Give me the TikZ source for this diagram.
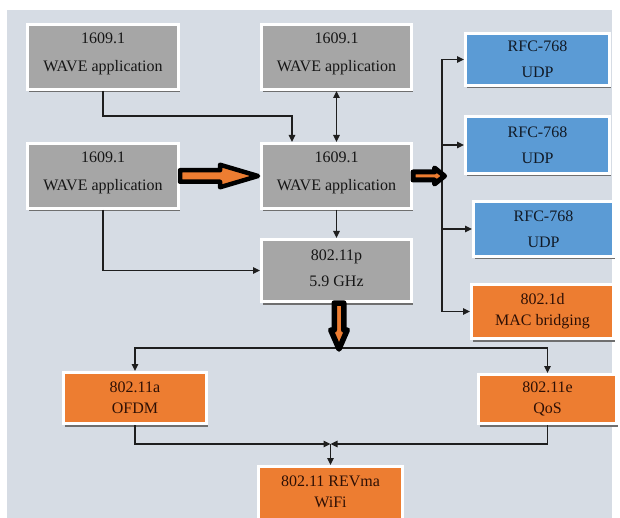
\documentclass[tikz,border=0pt]{standalone}
\usepackage{fontspec}
\setmainfont{Liberation Serif}
\usetikzlibrary{arrows.meta,shadows,calc}
\definecolor{bgc}{HTML}{D6DCE4}
\definecolor{grayc}{HTML}{A6A6A6}
\definecolor{bluec}{HTML}{5B9BD5}
\definecolor{orangec}{HTML}{ED7D31}
\definecolor{shadowc}{HTML}{6F6F6F}
\definecolor{linec}{HTML}{1E1E1E}
\definecolor{graytext}{HTML}{161616}
\definecolor{bluetext}{HTML}{111A26}
\definecolor{orangetext}{HTML}{2E1005}
\begin{document}
\begin{tikzpicture}[x=1pt,y=-1pt,
  blk/.style={draw=white, line width=3pt, align=center, inner sep=0pt,
    drop shadow={shadow xshift=1pt, shadow yshift=-3pt, opacity=1, fill=shadowc}},
  graybox/.style={blk, fill=grayc, text=graytext, font=\fontsize{16}{28}\selectfont},
  bluebox/.style={blk, fill=bluec, text=bluetext, font=\fontsize{16}{26}\selectfont},
  orangebox/.style={blk, fill=orangec, text=orangetext, font=\fontsize{16}{21}\selectfont},
  conn/.style={draw=linec, line width=1.3pt, -{Triangle[length=7pt,width=6.5pt]}},
  plainline/.style={draw=linec, line width=1.3pt},
  fatarrow/.style={draw=black, fill=orangec, line join=round},
]
\useasboundingbox (0,0) rectangle (620,518);
\clip (0,0) rectangle (620,518);
\fill[white] (0,0) rectangle (620,518);
\fill[bgc] (7,10) rectangle (612,518);

% application boxes
\node[graybox, minimum width=151pt, minimum height=65pt, text depth=9.5pt] (appA) at (103,57) {1609.1\\WAVE application};
\node[graybox, minimum width=151pt, minimum height=65pt, text depth=9.5pt] (appB) at (103,176) {1609.1\\WAVE application};
\node[graybox, minimum width=150pt, minimum height=65pt, text depth=9.5pt] (appC) at (336.5,57) {1609.1\\WAVE application};
\node[graybox, minimum width=150pt, minimum height=65pt, text depth=9.5pt] (appD) at (336.5,176) {1609.1\\WAVE application};
\node[graybox, minimum width=150pt, minimum height=62pt, text depth=4pt, font=\fontsize{16}{26}\selectfont] (phy) at (336.5,270.5) {802.11p\\5.9 GHz};

% transport / bridging boxes
\node[bluebox, minimum width=144pt, minimum height=52pt] (udpA) at (537.5,59.5) {RFC-768\\UDP};
\node[bluebox, minimum width=144pt, minimum height=57pt] (udpB) at (537.5,145) {RFC-768\\UDP};
\node[bluebox, minimum width=140pt, minimum height=55pt] (udpC) at (543.5,229) {RFC-768\\UDP};
\node[orangebox, minimum width=142pt, minimum height=54pt] (bridge) at (542.5,311.5) {802.1d\\MAC bridging};

% lower layer boxes
\node[orangebox, minimum width=143pt, minimum height=51pt] (ofdm) at (135,398) {802.11a\\OFDM};
\node[orangebox, minimum width=138pt, minimum height=49pt] (qos) at (547.5,399) {802.11e\\QoS};
\node[orangebox, minimum width=144pt, minimum height=60pt, text depth=10pt] (wifi) at (330.5,496.5) {802.11 REVma\\WiFi};

% junction points
\coordinate (bus) at (442,176);
\coordinate (split) at (336.5,348);
\coordinate (merge) at (330.5,444);

% thin connectors
\draw[conn] (appA.south) -- ++(0,25) -| ([xshift=-44.5pt]appD.north);
\draw[conn] (appB.south) |- (phy.west);
\draw[conn, {Triangle[length=7pt,width=6.5pt]}-{Triangle[length=7pt,width=6.5pt]}] (appC.south) -- (appD.north);
\draw[conn] (appD.south) -- (phy.north);

\draw[plainline] (bus |- udpA.west) -- (bus |- bridge.west);
\draw[conn] (bus |- udpA.west) -- (udpA.west);
\draw[conn] (bus |- udpB.west) -- (udpB.west);
\draw[conn] (bus |- udpC.west) -- (udpC.west);
\draw[conn] (bus |- bridge.west) -- (bridge.west);

\draw[conn] (split) -| (ofdm.north);
\draw[conn] (split) -| (qos.north);

\draw[conn] (ofdm.south) |- (merge);
\draw[conn] (qos.south) |- (merge);
\draw[conn] (merge) -- (wifi.north);

% fat arrows
\draw[fatarrow, line width=4.5pt]
  ($(appB.east)+(0,-5.75)$) -- ($(appD.west)+(-40,-5.75)$) -- ($(appD.west)+(-40,-11.25)$)
  -- ($(appD.west)+(-2,0)$)
  -- ($(appD.west)+(-40,11.25)$) -- ($(appD.west)+(-40,5.75)$) -- ($(appB.east)+(0,5.75)$) -- cycle;

\draw[fatarrow, line width=5pt]
  ($(appD.east)+(0,-4)$) -- ($(bus)+(-7.5,-4)$) -- ($(bus)+(-7.5,-8)$)
  -- ($(bus)+(2.5,0)$)
  -- ($(bus)+(-7.5,8)$) -- ($(bus)+(-7.5,4)$) -- ($(appD.east)+(0,4)$) -- cycle;

\draw[fatarrow, line width=5.5pt]
  ($(phy.south)+(-2.25,0)$) -- ($(split)+(-2.25,-18)$) -- ($(split)+(-5.75,-18)$)
  -- ($(split)+(2.5,1)$)
  -- ($(split)+(10.75,-18)$) -- ($(split)+(7.25,-18)$) -- ($(phy.south)+(7.25,0)$) -- cycle;
\end{tikzpicture}
\end{document}
